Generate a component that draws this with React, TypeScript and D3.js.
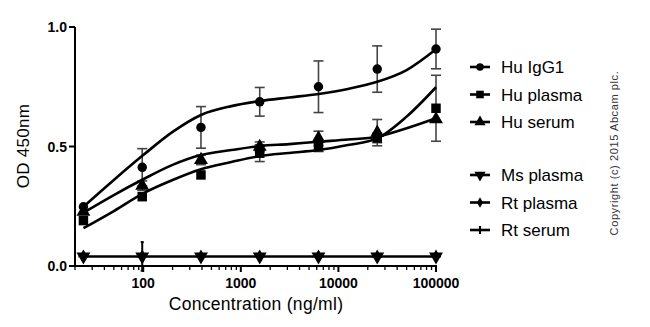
import React from "react";
import * as d3 from "d3";

const concentrations = [24.4, 97.7, 390.6, 1562.5, 6250, 25000, 100000];

const huIgG1 = [0.248, 0.413, 0.58, 0.687, 0.75, 0.824, 0.908];
const huIgG1Err = [0.01, 0.078, 0.087, 0.06, 0.108, 0.097, 0.083];
const huPlasma = [0.19, 0.29, 0.381, 0.472, 0.499, 0.536, 0.66];
const huPlasmaErr = [0.01, 0.01, 0.012, 0.035, 0.02, 0.02, 0.138];
const huSerum = [0.227, 0.336, 0.444, 0.499, 0.534, 0.558, 0.614];
const huSerumErr = [0.01, 0.02, 0.02, 0.02, 0.03, 0.055, 0.0];
const msPlasma = [0.04, 0.04, 0.04, 0.04, 0.04, 0.04, 0.04];
const rtPlasma = [0.042, 0.042, 0.041, 0.041, 0.041, 0.041, 0.041];
const rtSerum = [0.04, 0.04, 0.04, 0.04, 0.04, 0.04, 0.04];
const rtSerumErr = [0.005, 0.06, 0.0, 0.0, 0.0, 0.0, 0.0];

// fitted curves
const curveConc = [24.4, 50, 100, 200, 390.6, 800, 1562.5, 3125, 6250, 12500, 25000, 50000, 100000];
const huIgG1Fit = [0.248, 0.36, 0.464, 0.561, 0.632, 0.669, 0.69, 0.705, 0.72, 0.741, 0.771, 0.82, 0.907];
const huSerumFit = [0.223, 0.297, 0.363, 0.423, 0.464, 0.485, 0.502, 0.51, 0.52, 0.529, 0.541, 0.576, 0.618];
const huPlasmaFit = [0.158, 0.23, 0.304, 0.36, 0.405, 0.435, 0.46, 0.473, 0.485, 0.506, 0.534, 0.625, 0.748];
const flatFit = [0.04, 0.04, 0.04, 0.04, 0.04, 0.04, 0.04, 0.04, 0.04, 0.04, 0.04, 0.04, 0.04];

const xTickValues = [100, 1000, 10000, 100000];
const xTickLabels = ["100", "1000", "10000", "100000"];
const yTickValues = [0, 0.5, 1.0];
const yTickLabels = ["0.0", "0.5", "1.0"];

const seriesNames = ["Hu IgG1", "Hu plasma", "Hu serum", "Ms plasma", "Rt plasma", "Rt serum"];

const FONT = "Arial, 'Liberation Sans', sans-serif";

type Shape = "circle" | "square" | "triangle" | "down" | "diamond" | "plus";

function Marker({ shape, cx, cy, s = 1 }: { shape: Shape; cx: number; cy: number; s?: number }) {
  if (shape === "plus") {
    const h = 5 * s;
    return (
      <g stroke="#000" strokeWidth={2}>
        <line x1={cx - h} x2={cx + h} y1={cy} y2={cy} />
        <line x1={cx} x2={cx} y1={cy - h} y2={cy + h} />
      </g>
    );
  }
  const map: Record<string, [d3.SymbolType, number, number]> = {
    circle: [d3.symbolCircle, 70, 0],
    square: [d3.symbolSquare, 90, 0],
    triangle: [d3.symbolTriangle, 84, 0],
    down: [d3.symbolTriangle, 84, 180],
    diamond: [d3.symbolDiamond, 50, 0],
  };
  const [type, size, rot] = map[shape];
  const path = d3.symbol().type(type).size(size * s * s)() as string;
  return <path d={path} transform={`translate(${cx},${cy}) rotate(${rot})`} fill="#000" />;
}

export default function App() {
  const W = 650;
  const H = 327;
  const x = d3.scaleLog().domain([20, 100000]).range([75, 436]);
  const y = d3.scaleLinear().domain([0, 1]).range([266, 27]);

  const line = d3
    .line<[number, number]>()
    .x((d) => x(d[0]))
    .y((d) => y(d[1]))
    .curve(d3.curveMonotoneX);

  const fits: number[][] = [huIgG1Fit, huPlasmaFit, huSerumFit, flatFit];

  const series: { vals: number[]; err: number[] | null; shape: Shape; errColor: string; cap: number }[] = [
    { vals: huIgG1, err: huIgG1Err, shape: "circle", errColor: "#444", cap: 5 },
    { vals: huPlasma, err: huPlasmaErr, shape: "square", errColor: "#444", cap: 5 },
    { vals: huSerum, err: huSerumErr, shape: "triangle", errColor: "#444", cap: 5 },
    { vals: msPlasma, err: null, shape: "down", errColor: "#000", cap: 0 },
    { vals: rtPlasma, err: null, shape: "diamond", errColor: "#000", cap: 0 },
    { vals: rtSerum, err: rtSerumErr, shape: "plus", errColor: "#000", cap: 1.5 },
  ];

  const minorTicks: number[] = [];
  for (let dec = 10; dec < 100000; dec *= 10) {
    for (let k = 2; k <= 9; k++) {
      const v = dec * k;
      if (v >= 20 && v < 100000 && !xTickValues.includes(v)) minorTicks.push(v);
    }
  }

  const legendY = [67, 94.5, 122, 175, 202.5, 230];
  const legendShapes: Shape[] = ["circle", "square", "triangle", "down", "diamond", "plus"];

  return (
    <svg width={W} height={H} style={{ position: "absolute", left: 0, top: 0, background: "#fff" }}>
      <rect width={W} height={H} fill="#fff" />
      {/* error bars */}
      {series.map((s, si) =>
        s.err
          ? s.vals.map((v, i) => {
              const e = s.err![i];
              if (e <= 0.012) return null;
              const cx = x(concentrations[i]);
              return (
                <g key={`e${si}-${i}`} stroke={s.errColor} strokeWidth={s.cap < 5 ? 2 : 1.6}>
                  <line x1={cx} x2={cx} y1={y(v + e)} y2={y(v - e)} />
                  <line x1={cx - s.cap} x2={cx + s.cap} y1={y(v + e)} y2={y(v + e)} />
                  <line x1={cx - s.cap} x2={cx + s.cap} y1={y(v - e)} y2={y(v - e)} />
                </g>
              );
            })
          : null
      )}
      {/* fitted curves */}
      {fits.map((f, fi) => (
        <path
          key={`f${fi}`}
          d={line(curveConc.map((c, i) => [c, f[i]] as [number, number])) as string}
          fill="none"
          stroke="#000"
          strokeWidth={2.6}
        />
      ))}
      {/* markers */}
      {series
        .slice()
        .reverse()
        .map((s, si) =>
          s.vals.map((v, i) => (
            <Marker key={`m${si}-${i}`} shape={s.shape} cx={x(concentrations[i])} cy={y(v)} />
          ))
        )}
      {/* axes */}
      <g stroke="#000" strokeWidth={2}>
        <line x1={75} x2={75} y1={y(1)} y2={y(0) + 1} />
        <line x1={74} x2={x(100000) + 1} y1={y(0)} y2={y(0)} />
        {yTickValues.map((t) => (
          <line key={`yt${t}`} x1={69} x2={75} y1={y(t)} y2={y(t)} />
        ))}
        {xTickValues.map((t) => (
          <line key={`xt${t}`} x1={x(t)} x2={x(t)} y1={y(0)} y2={y(0) + 6} />
        ))}
      </g>
      <g stroke="#000" strokeWidth={1.3}>
        {minorTicks.map((t) => (
          <line key={`mt${t}`} x1={x(t)} x2={x(t)} y1={y(0)} y2={y(0) + 4} />
        ))}
      </g>
      {yTickValues.map((t, i) => (
        <text
          key={`yl${t}`}
          x={67}
          y={y(t)}
          dy="0.36em"
          textAnchor="end"
          fontFamily={FONT}
          fontWeight="bold"
          fontSize={14}
        >
          {yTickLabels[i]}
        </text>
      ))}
      {xTickValues.map((t, i) => (
        <text
          key={`xl${t}`}
          x={x(t)}
          y={288}
          textAnchor="middle"
          fontFamily={FONT}
          fontWeight="bold"
          fontSize={14}
        >
          {xTickLabels[i]}
        </text>
      ))}
      <text x={256} y={310} textAnchor="middle" fontFamily={FONT} fontSize={17.5} letterSpacing={0.3}>
        Concentration (ng/ml)
      </text>
      <text
        transform="translate(29,146) rotate(-90)"
        textAnchor="middle"
        fontFamily={FONT}
        fontSize={17}
        letterSpacing={0.3}
      >
        OD 450nm
      </text>
      {/* legend */}
      {seriesNames.map((n, i) => (
        <g key={`lg${i}`}>
          <line x1={470} x2={490} y1={legendY[i]} y2={legendY[i]} stroke="#000" strokeWidth={2.6} />
          <Marker shape={legendShapes[i]} cx={480} cy={legendY[i]} s={0.8} />
          <text x={501} y={legendY[i]} dy="0.36em" fontFamily={FONT} fontSize={17}>
            {n}
          </text>
        </g>
      ))}
      <text
        transform="translate(618,153) rotate(-90)"
        textAnchor="middle"
        fontFamily={FONT}
        fontSize={11}
        letterSpacing={0.6}
        fill="#333"
      >
        Copyright (c) 2015 Abcam plc.
      </text>
    </svg>
  );
}
